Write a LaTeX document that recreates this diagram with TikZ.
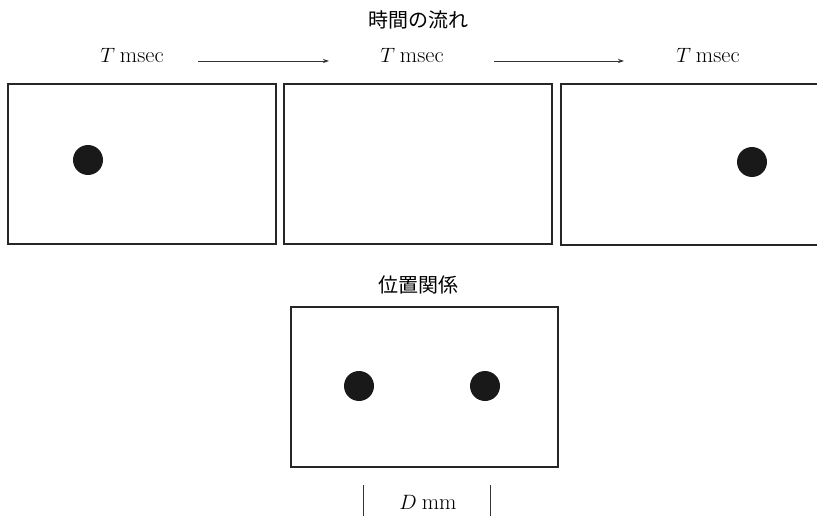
\documentclass[tikz,border=0pt]{standalone}
\usepackage{fontspec}
\newfontfamily\cjk{Noto Sans CJK JP}
\usetikzlibrary{arrows.meta}
\begin{document}
\begin{tikzpicture}[x=1pt,y=-1pt,
  frame/.style={draw=black!85,line width=1.3pt,inner sep=0pt,outer sep=0pt,fill=white},
  dot/.style={circle,fill=black!90,inner sep=0pt,minimum size=30pt},
  lbl/.style={font=\fontsize{22.5}{26}\selectfont,inner sep=0pt,anchor=base},
  jlbl/.style={font=\cjk\fontsize{20}{24}\selectfont,inner sep=0pt},
  flow/.style={draw=black!80,line width=0.8pt,-{Stealth[length=6pt,width=4pt]}},
  bar/.style={draw=black!80,line width=1pt}]
\useasboundingbox (0,0) rectangle (817,516);
% title
\node[jlbl] (title) at (418,20) {時間の流れ};
% time labels
\node[lbl] (t1) at (132,63) {$T$\hspace{0.22em}msec};
\node[lbl] (t2) at (412,63) {$T$\hspace{0.22em}msec};
\node[lbl] (t3) at (708,63) {$T$\hspace{0.22em}msec};
\coordinate (a1s) at (198,61); \coordinate (a1e) at (329,61);
\coordinate (a2s) at (494,61); \coordinate (a2e) at (624,61);
\draw[flow] (a1s) -- (a1e);
\draw[flow] (a2s) -- (a2e);
% frames
\node[frame,minimum width=268pt,minimum height=160pt] (f1) at (142,164) {};
\node[frame,minimum width=268pt,minimum height=160pt] (f2) at (418,164) {};
\node[frame,minimum width=268pt,minimum height=161pt] (f3) at (695,164.5) {};
\node[dot] (d1) at (88,160) {};
\node[dot] (d3) at (752,162) {};
% relation
\node[jlbl] (rel) at (418,285) {位置関係};
\node[frame,minimum width=267pt,minimum height=160pt] (f4) at (424.5,387) {};
\node[dot] (d4a) at (359,386) {};
\node[dot] (d4b) at (485,386) {};
\coordinate (b1t) at (363,485); \coordinate (b1b) at (363,516);
\coordinate (b2t) at (490,485); \coordinate (b2b) at (490,516);
\draw[bar] (b1t) -- (b1b);
\draw[bar] (b2t) -- (b2b);
\node[lbl] (dmm) at (428,509) {$D$\hspace{0.22em}mm};
\end{tikzpicture}
\end{document}
